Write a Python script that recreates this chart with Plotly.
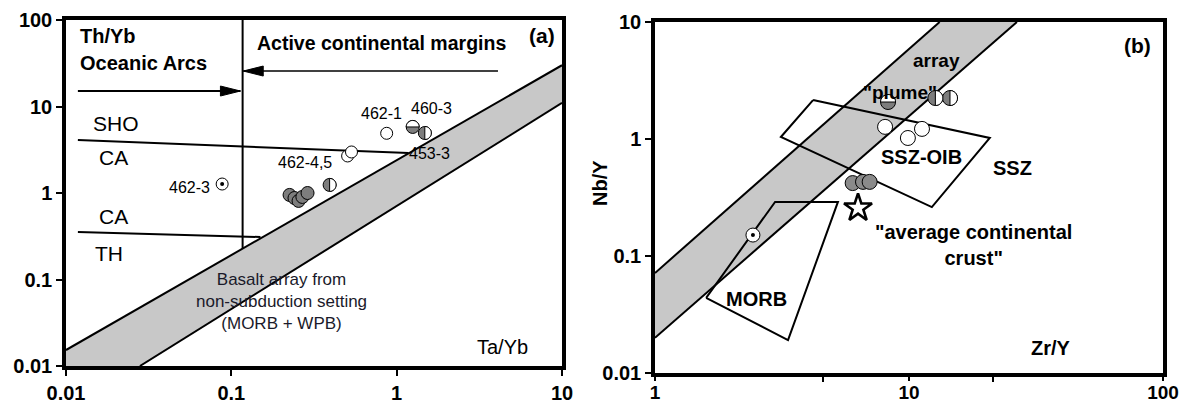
import numpy as np
import plotly.graph_objects as go

FONT = "Liberation Sans, Arial, sans-serif"
BAND_FILL = "#c8c8c8"
DOT_FILL = "#7d7d7d"

# ---------------- panel (a): Th/Yb vs Ta/Yb ----------------
a_gray_x = [0.225, 0.241, 0.255, 0.269, 0.289]
a_gray_y = [0.95, 0.875, 0.81, 0.90, 1.0]
a_open_x = [0.87, 0.505, 0.533]
a_open_y = [4.9, 2.68, 2.98]
a_half_h_x = [1.25]
a_half_h_y = [5.8]
a_half_v_x = [1.48, 0.393]
a_half_v_y = [4.94, 1.24]
a_dot_x = [0.088]
a_dot_y = [1.27]

a_band_upper_x = [0.01, 10]
a_band_upper_y = [0.0153, 30]
a_band_lower_x = [0.028, 10]
a_band_lower_y = [0.01, 11]
a_sho_ca_x = [0.0118, 1.18]
a_sho_ca_y = [4.1, 2.9]
a_ca_th_x = [0.0118, 0.15]
a_ca_th_y = [0.354, 0.31]
a_divide_x = [0.117, 0.117]
a_divide_y = [100, 0.225]
a_arc_arrow_x = [0.0118, 0.1135]
a_arc_arrow_y = [15.1, 15.1]
a_acm_arrow_x = [4.1, 0.118]
a_acm_arrow_y = [25.7, 25.7]

a_sample_labels = ["462-3", "462-1", "460-3", "462-4,5", "453-3"]
a_sample_lx = [0.076, 0.81, 1.63, 0.28, 1.58]
a_sample_ly = [1.17, 8.4, 9.6, 2.28, 2.9]

# ---------------- panel (b): Nb/Y vs Zr/Y ----------------
b_gray_x = [6.0, 6.59, 7.0]
b_gray_y = [0.42, 0.43, 0.43]
b_open_x = [8.05, 9.9, 11.25]
b_open_y = [1.27, 1.02, 1.22]
b_half_h_x = [8.27]
b_half_h_y = [2.07]
b_half_v_x = [12.7, 14.5]
b_half_v_y = [2.24, 2.24]
b_dot_x = [2.43]
b_dot_y = [0.151]
b_star_x = [6.3]
b_star_y = [0.257]

b_band_upper_x = [1, 13.2]
b_band_upper_y = [0.0716, 10]
b_band_lower_x = [1, 26.6]
b_band_lower_y = [0.02, 10]
b_ssz_x = [4.19, 20.8, 12.3, 3.13, 4.19]
b_ssz_y = [2.15, 1.02, 0.262, 1.04, 2.15]
b_morb_x = [1.59, 2.97, 5.25, 3.34, 1.59]
b_morb_y = [0.0438, 0.29, 0.29, 0.0191, 0.0438]

a_xticks = [0.01, 0.1, 1, 10]
a_xtext = ["0.01", "0.1", "1", "10"]
a_yticks = [0.01, 0.1, 1, 10, 100]
a_ytext = ["0.01", "0.1", "1", "10", "100"]
b_xticks = [1, 10, 100]
b_xtext = ["1", "10", "100"]
b_yticks = [0.01, 0.1, 1, 10]
b_ytext = ["0.01", "0.1", "1", "10"]

fig = go.Figure()


def line(x, y, xa, ya, width=2.0):
    fig.add_trace(go.Scatter(x=x, y=y, xaxis=xa, yaxis=ya, mode="lines",
                             line=dict(color="black", width=width),
                             hoverinfo="skip", showlegend=False))


def band(ux, uy, lx, ly, corner, xa, ya):
    px = [ux[0], ux[1], lx[1], lx[0]] + ([corner[0]] if corner else [])
    py = [uy[0], uy[1], ly[1], ly[0]] + ([corner[1]] if corner else [])
    fig.add_trace(go.Scatter(x=px, y=py, xaxis=xa, yaxis=ya, mode="none",
                             fill="toself", fillcolor=BAND_FILL,
                             hoverinfo="skip", showlegend=False))
    line(ux, uy, xa, ya)
    line(lx, ly, xa, ya)


def dots(x, y, xa, ya, size, fill, symbol="circle", lw=1.0):
    fig.add_trace(go.Scatter(x=x, y=y, xaxis=xa, yaxis=ya, mode="markers",
                             marker=dict(symbol=symbol, size=size, color=fill,
                                         line=dict(color="black", width=lw)),
                             hoverinfo="skip", showlegend=False))


shapes = []


def half_caps(x, y, xref, yref, r, side):
    k = 0.5523 * r
    if side == "right":
        p = f"M 0,{r} C {k},{r} {r},{k} {r},0 C {r},{-k} {k},{-r} 0,{-r} Z"
    else:  # top half
        p = f"M {-r},0 C {-r},{k} {-k},{r} 0,{r} C {k},{r} {r},{k} {r},0 Z"
    for xi, yi in zip(x, y):
        shapes.append(dict(type="path", xref=xref, yref=yref,
                           xsizemode="pixel", ysizemode="pixel",
                           xanchor=xi, yanchor=yi, path=p,
                           fillcolor="white", line=dict(color="black", width=1),
                           layer="above"))


def arrow_head(x, y, xref, yref, direction):
    s = 1 if direction == "right" else -1
    p = f"M 0,0 L {-20 * s},5 L {-20 * s},-5 Z"
    shapes.append(dict(type="path", xref=xref, yref=yref,
                       xsizemode="pixel", ysizemode="pixel",
                       xanchor=x, yanchor=y, path=p,
                       fillcolor="black", line=dict(color="black", width=1),
                       layer="above"))


# ---- panel (a) drawing ----
band(a_band_upper_x, a_band_upper_y, a_band_lower_x, a_band_lower_y,
     (0.01, 0.01), "x", "y")
line(a_sho_ca_x, a_sho_ca_y, "x", "y")
line(a_ca_th_x, a_ca_th_y, "x", "y")
line(a_divide_x, a_divide_y, "x", "y")
line(a_arc_arrow_x, a_arc_arrow_y, "x", "y", 1.8)
line(a_acm_arrow_x, a_acm_arrow_y, "x", "y", 1.5)
arrow_head(a_arc_arrow_x[1], a_arc_arrow_y[1], "x", "y", "right")
arrow_head(a_acm_arrow_x[1], a_acm_arrow_y[1], "x", "y", "left")

dots(a_gray_x, a_gray_y, "x", "y", 13, DOT_FILL)
dots(a_open_x, a_open_y, "x", "y", 12, "white")
dots(a_half_h_x, a_half_h_y, "x", "y", 13, DOT_FILL)
dots(a_half_v_x, a_half_v_y, "x", "y", 13, DOT_FILL)
half_caps(a_half_h_x, a_half_h_y, "x", "y", 6.5, "top")
half_caps(a_half_v_x, a_half_v_y, "x", "y", 6.5, "right")
dots(a_dot_x, a_dot_y, "x", "y", 12, "white")
dots(a_dot_x, a_dot_y, "x", "y", 4, "black", lw=0)

# ---- panel (b) drawing ----
band(b_band_upper_x, b_band_upper_y, b_band_lower_x, b_band_lower_y,
     None, "x2", "y2")
line(b_ssz_x, b_ssz_y, "x2", "y2")
line(b_morb_x, b_morb_y, "x2", "y2")

dots(b_gray_x, b_gray_y, "x2", "y2", 15, "#8a8a8a")
dots(b_open_x, b_open_y, "x2", "y2", 15, "white")
dots(b_half_h_x, b_half_h_y, "x2", "y2", 15, DOT_FILL)
dots(b_half_v_x, b_half_v_y, "x2", "y2", 15, DOT_FILL)
half_caps(b_half_h_x, b_half_h_y, "x2", "y2", 7.5, "top")
half_caps(b_half_v_x, b_half_v_y, "x2", "y2", 7.5, "right")
dots(b_dot_x, b_dot_y, "x2", "y2", 14, "white")
dots(b_dot_x, b_dot_y, "x2", "y2", 4, "black", lw=0)
dots(b_star_x, b_star_y, "x2", "y2", 21, "white", symbol="star", lw=2.6)

# ---- text ----
ann = []


def label(text, x, y, xref, yref, size=20, bold=False, xanchor="center",
          angle=0, color="black", log=True):
    ann.append(dict(text=text, x=np.log10(x) if log else x,
                    y=np.log10(y) if log else y, xref=xref, yref=yref,
                    showarrow=False, xanchor=xanchor, yanchor="middle",
                    textangle=angle,
                    font=dict(family=FONT, size=size, color=color,
                              weight="bold" if bold else "normal")))


label("Th/Yb", 0.0118, 65, "x", "y", bold=True, xanchor="left")
label("Oceanic Arcs", 0.0118, 31.8, "x", "y", bold=True, xanchor="left")
label("Active continental margins", 0.14, 54, "x", "y", size=19.5, bold=True,
      xanchor="left")
label("(a)", 7.6, 67, "x", "y", size=21, bold=True)
label("SHO", 0.0142, 6.44, "x", "y", size=21, xanchor="left")
label("CA", 0.0154, 2.6, "x", "y", size=21, xanchor="left")
label("CA", 0.0154, 0.528, "x", "y", size=21, xanchor="left")
label("TH", 0.0146, 0.202, "x", "y", size=21, xanchor="left")
label("Basalt array from<br>non-subduction setting<br>(MORB + WPB)",
      0.201, 0.0564, "x", "y", size=17, color="#1a1a2a")
label("Ta/Yb", 4.39, 0.0166, "x", "y", size=20)
for t, lx_, ly_ in zip(a_sample_labels, a_sample_lx, a_sample_ly):
    label(t, lx_, ly_, "x", "y", size=16,
          xanchor="right" if t == "462-3" else "center")

label("(b)", 79, 6.35, "x2", "y2", size=21, bold=True)
label("array", 12.8, 4.73, "x2", "y2", size=19, bold=True)
label('"plume"', 9.23, 2.52, "x2", "y2", size=19, bold=True)
label("SSZ-OIB", 11.2, 0.70, "x2", "y2", size=20, bold=True)
label("SSZ", 25.5, 0.565, "x2", "y2", size=20, bold=True)
label("MORB", 2.5, 0.0429, "x2", "y2", size=20, bold=True)
label('"average continental<br>crust"', 17.9, 0.123, "x2", "y2", size=20,
      bold=True)
label("Zr/Y", 36.3, 0.0164, "x2", "y2", size=20, bold=True)
label("Nb/Y", 600 / 1184, 1 - 183 / 405, "paper", "paper", size=20,
      bold=True, angle=-90, log=False)

W, H = 1184, 405


def axis(domain, rng, vals, text, anchor, minor=None, ticklen=6, fsize=20,
         standoff=None):
    d = dict(type="log", range=rng, domain=domain, anchor=anchor,
             automargin=False,
             showgrid=False, zeroline=False, showline=True, linecolor="black",
             linewidth=3.5, mirror=True, ticks="outside", ticklen=ticklen,
             tickwidth=2, tickcolor="black", tickmode="array",
             tickvals=vals, ticktext=text,
             tickfont=dict(family=FONT, size=fsize, color="black",
                           weight="bold"))
    if standoff is not None:
        d["ticklabelstandoff"] = standoff
    if minor:
        d["minor"] = dict(tickmode="array", tickvals=minor, ticks="outside",
                          ticklen=5, tickwidth=1.5, tickcolor="black")
    return d


fig.update_layout(
    template="none",
    width=W, height=H,
    margin=dict(l=0, r=0, t=0, b=0, autoexpand=False),
    paper_bgcolor="white", plot_bgcolor="white",
    showlegend=False,
    xaxis=axis([66 / W, 562 / W], [-2, 1], a_xticks, a_xtext, "y"),
    yaxis=axis([39 / H, 385 / H], [-2, 2], a_yticks, a_ytext, "x"),
    xaxis2=axis([655 / W, 1163 / W], [0, 2], b_xticks, b_xtext, "y2",
                minor=[4.6, 21.5], ticklen=4, fsize=19, standoff=-5),
    yaxis2=axis([32 / H, 383 / H], [-2, 1], b_yticks, b_ytext, "x2"),
    shapes=shapes,
    annotations=ann,
)

fig.write_html("out.html")
